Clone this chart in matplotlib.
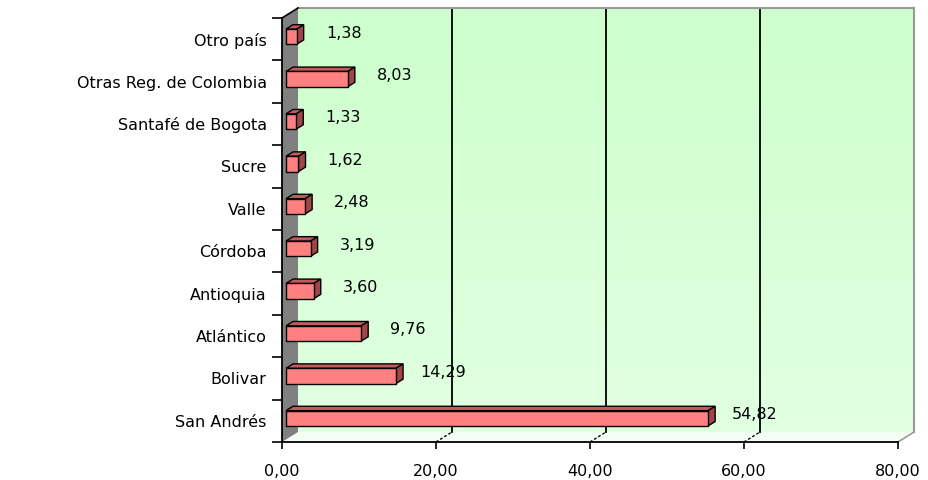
import numpy as np
import matplotlib
matplotlib.use('Agg')
import matplotlib.pyplot as plt
from matplotlib.patches import Polygon
from matplotlib.lines import Line2D
import matplotlib.transforms as mtransforms

categories = ["San Andrés", "Bolivar", "Atlántico", "Antioquia", "Córdoba",
              "Valle", "Sucre", "Santafé de Bogota", "Otras Reg. de Colombia", "Otro país"]
values = [54.82, 14.29, 9.76, 3.60, 3.19, 2.48, 1.62, 1.33, 8.03, 1.38]
value_labels = ["54,82", "14,29", "9,76", "3,60", "3,19", "2,48", "1,62", "1,33", "8,03", "1,38"]
x_ticks = [0, 20, 40, 60, 80]
x_tick_labels = ["0,00", "20,00", "40,00", "60,00", "80,00"]

W, H = 929, 480
fig = plt.figure(figsize=(W / 100, H / 100), dpi=100)
fig.patch.set_facecolor('white')
ax = fig.add_axes([282 / W, 1 - 442 / H, (898 - 282) / W, (442 - 18) / H])
for s in ax.spines.values():
    s.set_visible(False)
ax.patch.set_visible(False)

DX, DY = 16, 10  # depth of the 3D box, pixels
FS = 11.5


def offset(d):
    return ax.transData + mtransforms.ScaledTranslation(d * DX / 100, d * DY / 100, fig.dpi_scale_trans)


n = len(categories)
y0, y1 = -0.5, n - 0.5
xmin, xmax = x_ticks[0], x_ticks[-1]

# back wall gradient
grad = np.zeros((256, 1, 3))
top = np.array([204, 255, 204]) / 255
bot = np.array([226, 255, 226]) / 255
for i in range(256):
    t = i / 255
    grad[i, 0] = top * (1 - t) + bot * t
ax.imshow(grad, extent=(xmin, xmax, y0, y1), transform=offset(1), aspect='auto',
          interpolation='bilinear', zorder=0, clip_on=False, origin='upper')
ax.set_xlim(xmin, xmax)
ax.set_ylim(y0, y1)

ident = mtransforms.IdentityTransform()


def P(x, y, d):
    X, Y = ax.transData.transform((x, y))
    return (X + d * DX, Y + d * DY)


def poly(pts, **kw):
    p = Polygon(pts, closed=True, transform=ident, clip_on=False, **kw)
    ax.add_patch(p)


def line(p, q, **kw):
    l = Line2D([p[0], q[0]], [p[1], q[1]], transform=ident, clip_on=False, **kw)
    ax.add_line(l)


# floor
poly([P(xmin, y0, 0), P(xmax, y0, 0), P(xmax, y0, 1), P(xmin, y0, 1)],
     facecolor='#F2FFF2', edgecolor='none', zorder=1)
# left wall
poly([P(xmin, y0, 0), P(xmin, y1, 0), P(xmin, y1, 1), P(xmin, y0, 1)],
     facecolor='#808080', edgecolor='none', zorder=1)

# gridlines on the back wall and floor
for xv in x_ticks[1:-1]:
    line(P(xv, y0, 1), P(xv, y1, 1), color='black', lw=1.3, zorder=1.5)
for xv in x_ticks[1:-1]:
    line(P(xv, y0, 0), P(xv, y0, 1), color='black', lw=1, ls=(0, (2, 1.5)), zorder=1.5)
# box border lines
line(P(xmin, y1, 1), P(xmax, y1, 1), color='#999999', lw=1.5, zorder=1.5)
line(P(xmax, y0, 1), P(xmax, y1, 1), color='#999999', lw=1.5, zorder=1.5)
line(P(xmax, y0, 0), P(xmax, y0, 1), color='#999999', lw=1.2, zorder=1.5)
line(P(xmin, y1, 0), P(xmin, y1, 1), color='black', lw=1.2, zorder=4)

# bars
bd0, bd1 = 0.25, 0.69
bh = 0.36
ypos = np.arange(n)
ax.barh(ypos, values, height=bh, left=0, color='#FF8080', edgecolor='black',
        linewidth=1, transform=offset(bd0), zorder=3, clip_on=False)
for yv, v in zip(ypos, values):
    yt, yb = yv + bh / 2, yv - bh / 2
    poly([P(0, yt, bd0), P(v, yt, bd0), P(v, yt, bd1), P(0, yt, bd1)],
         facecolor='#C45A5A', edgecolor='black', lw=1, zorder=2.9)
    poly([P(v, yb, bd0), P(v, yt, bd0), P(v, yt, bd1), P(v, yb, bd1)],
         facecolor='#A04646', edgecolor='black', lw=1, zorder=2.9)

# value labels
for yv, v, lab in zip(ypos, values, value_labels):
    ax.annotate(lab, xy=(v, yv), xytext=(51 * 0.72, 6 * 0.72), textcoords='offset points',
                ha='center', va='center', fontsize=FS, color='black', zorder=5,
                annotation_clip=False)

# axis lines
line(P(xmin, y0, 0), P(xmax, y0, 0), color='black', lw=1.3, zorder=4)
line(P(xmin, y0, 0), P(xmin, y1, 0), color='black', lw=1.3, zorder=4)

# ticks
ax.set_xticks(x_ticks)
ax.set_xticklabels(x_tick_labels, fontsize=FS)
ax.tick_params(axis='x', direction='out', length=5, width=1.2, pad=11, colors='black')
ax.set_yticks(ypos)
ax.set_yticklabels(categories, fontsize=FS)
ax.set_yticks(np.arange(n + 1) - 0.5, minor=True)
ax.tick_params(axis='y', which='major', length=0, pad=11)
ax.tick_params(axis='y', which='minor', length=7.5, width=1.2, direction='out')

fig.savefig('out.png', dpi=100)
